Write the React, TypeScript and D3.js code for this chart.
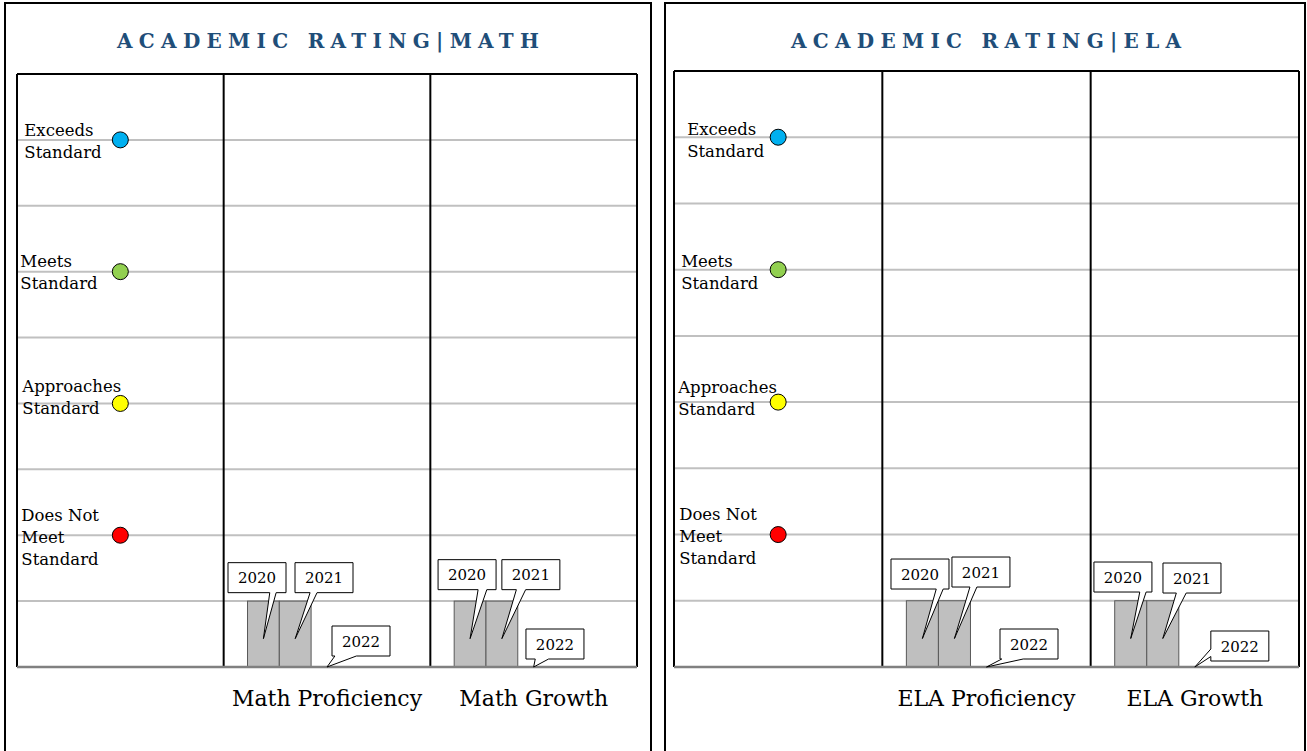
import React from "react";
import * as d3 from "d3";

// ---------- data ----------
const years = ["2020", "2021", "2022"];
const mathCategories = ["Math Proficiency", "Math Growth"];
const elaCategories = ["ELA Proficiency", "ELA Growth"];
const mathProficiency = [1, 1, 0];
const mathGrowth = [1, 1, 0];
const elaProficiency = [1, 1, 0];
const elaGrowth = [1, 1, 0];
const ratingLevels = ["Exceeds Standard", "Meets Standard", "Approaches Standard", "Does Not Meet Standard"];
const ratingLines = [["Exceeds", "Standard"], ["Meets", "Standard"], ["Approaches", "Standard"], ["Does Not", "Meet", "Standard"]];
const ratingValues = [8, 6, 4, 2];
const yDomainMax = 9;
const gridTicks = [1, 2, 3, 4, 5, 6, 7, 8];
const titles = ["ACADEMIC RATING|MATH", "ACADEMIC RATING|ELA"];

// ---------- style / layout ----------
const FONT = "'DejaVu Serif', serif";
const ratingColors = ["#00b0f0", "#92d050", "#ffff00", "#ff0000"];
const BAR_SLOTS = 5;
const TIP_FRACTION = 0.43;
const CALLOUT_W = 58;
const CALLOUT_H = 30;
const TITLE_SIZE = 20;
const TITLE_SPACING = 6.3;

type Callout = [number, number, "b" | "l", number, number];

const panelLayouts = [
  {
    frame: [5, 3, 651, 800],
    titleX: 328,
    plot: { x0: 17, x1: 637, y0: 74, y1: 667 },
    labelDx: [-96, -100, -98, -99],
    labelDy: [-4, -4.7, -11.7, -14.3],
    callouts: [
      [[-35.4, -76, "b", 0.72, 0.83], [-0.2, -76, "b", 0.26, 0.38], [5, -41, "b", 0.05, 0.42]],
      [[-32, -79, "b", 0.69, 0.84], [0, -79, "b", 0.25, 0.41], [-7.7, -38, "b", 0.16, 0.39]],
    ] as Callout[][],
  },
  {
    frame: [665, 3, 1305, 800],
    titleX: 986,
    plot: { x0: 674, x1: 1299, y0: 71, y1: 667 },
    labelDx: [-91, -97, -100, -99],
    labelDy: [-2.4, -2.6, -8.7, -14.6],
    callouts: [
      [[-31.4, -79.5, "b", 0.78, 0.9], [-2.5, -81.5, "b", 0.31, 0.43], [13.5, -38, "b", 0.03, 0.4]],
      [[-36.8, -76.5, "b", 0.79, 0.9], [0.2, -75.5, "b", 0.23, 0.4], [16, -36, "l", 0.6, 0.85]],
    ] as Callout[][],
  },
];

const panelsData = [
  { title: titles[0], categories: mathCategories, series: [mathProficiency, mathGrowth] },
  { title: titles[1], categories: elaCategories, series: [elaProficiency, elaGrowth] },
];

function calloutPath(bx: number, by: number, w: number, h: number, tx: number, ty: number, edge: string, f1: number, f2: number) {
  if (edge === "l") {
    return `M${bx},${by}H${bx + w}V${by + h}H${bx}V${by + f2 * h}L${tx},${ty}L${bx},${by + f1 * h}Z`;
  }
  return `M${bx},${by}H${bx + w}V${by + h}H${bx + f2 * w}L${tx},${ty}L${bx + f1 * w},${by + h}H${bx}Z`;
}

function Panel({ idx }: { idx: number }) {
  const L = panelLayouts[idx];
  const D = panelsData[idx];
  const { x0, x1, y0, y1 } = L.plot;
  const x = d3.scaleBand<string>().domain(["", ...D.categories]).range([x0, x1]).padding(0);
  const inner = d3
    .scaleBand<number>()
    .domain(d3.range(BAR_SLOTS))
    .range([0, x.bandwidth()])
    .paddingInner(0)
    .paddingOuter(0.75);
  const y = d3.scaleLinear().domain([0, yDomainMax]).range([y1, y0]);
  const dotX = (x("") as number) + x.bandwidth() / 2;
  const [fx0, fy0, fx1, fy1] = L.frame;

  return (
    <g>
      <rect x={fx0} y={fy0} width={fx1 - fx0} height={fy1 - fy0} fill="#fff" stroke="#000" strokeWidth={2} />
      <text
        x={L.titleX + TITLE_SPACING / 2}
        y={48}
        textAnchor="middle"
        fontFamily={FONT}
        fontWeight="bold"
        fontSize={TITLE_SIZE}
        letterSpacing={TITLE_SPACING}
        fill="#1f4e79"
      >
        {D.title}
      </text>
      {/* gridlines */}
      {gridTicks.map((t) => (
        <line key={t} x1={x0} x2={x1} y1={y(t)} y2={y(t)} stroke="#c0c0c0" strokeWidth={2} />
      ))}
      {/* bars */}
      {D.categories.map((c, ci) =>
        D.series[ci].map((v, yi) => {
          const bx = (x(c) as number) + (inner(yi) as number);
          return (
            <rect
              key={c + yi}
              x={bx}
              y={y(v)}
              width={inner.bandwidth()}
              height={y(0) - y(v)}
              fill="#bfbfbf"
              stroke="#595959"
              strokeWidth={1}
            />
          );
        })
      )}
      {/* frame */}
      <line x1={x0} x2={x1} y1={y0} y2={y0} stroke="#000" strokeWidth={2} />
      <line x1={x0} x2={x0} y1={y0} y2={y1} stroke="#000" strokeWidth={2} />
      <line x1={x1} x2={x1} y1={y0} y2={y1} stroke="#000" strokeWidth={2} />
      {D.categories.map((c) => (
        <line key={c} x1={x(c) as number} x2={x(c) as number} y1={y0} y2={y1} stroke="#000" strokeWidth={2} />
      ))}
      <line x1={x0} x2={x1} y1={y(0)} y2={y(0)} stroke="#808080" strokeWidth={2.5} />
      {/* rating dots and labels */}
      {ratingLevels.map((lvl, i) => {
        const cy = y(ratingValues[i]);
        return (
          <g key={lvl}>
            <text fontFamily={FONT} fontSize={16.5} fill="#000">
              {ratingLines[i].map((ln, k) => (
                <tspan key={k} x={dotX + L.labelDx[i]} y={cy + L.labelDy[i] + k * 22}>
                  {ln}
                </tspan>
              ))}
            </text>
            <circle cx={dotX} cy={cy} r={8} fill={ratingColors[i]} stroke="#000" strokeWidth={1} />
          </g>
        );
      })}
      {/* category labels */}
      {D.categories.map((c) => (
        <text
          key={c}
          x={(x(c) as number) + x.bandwidth() / 2}
          y={706}
          textAnchor="middle"
          fontFamily={FONT}
          fontSize={22}
          fill="#000"
        >
          {c}
        </text>
      ))}
      {/* callouts */}
      {D.categories.map((c, ci) =>
        D.series[ci].map((v, yi) => {
          const tx = (x(c) as number) + (inner(yi) as number) + inner.bandwidth() / 2;
          const ty = y(v * TIP_FRACTION);
          const [dx, dy, edge, f1, f2] = L.callouts[ci][yi];
          const bx = tx + dx;
          const by = ty + dy;
          return (
            <g key={"co" + c + yi}>
              <path
                d={calloutPath(bx, by, CALLOUT_W, CALLOUT_H, tx, ty, edge, f1, f2)}
                fill="#fff"
                stroke="#000"
                strokeWidth={1}
              />
              <text
                x={bx + CALLOUT_W / 2}
                y={by + CALLOUT_H / 2 + 5.5}
                textAnchor="middle"
                fontFamily={FONT}
                fontSize={15}
                fill="#000"
              >
                {years[yi]}
              </text>
            </g>
          );
        })
      )}
    </g>
  );
}

export default function App() {
  return (
    <svg
      width={1307}
      height={751}
      style={{ position: "absolute", left: 0, top: 0, background: "#fff" }}
    >
      <rect x={0} y={0} width={1307} height={751} fill="#fff" />
      <Panel idx={0} />
      <Panel idx={1} />
    </svg>
  );
}
